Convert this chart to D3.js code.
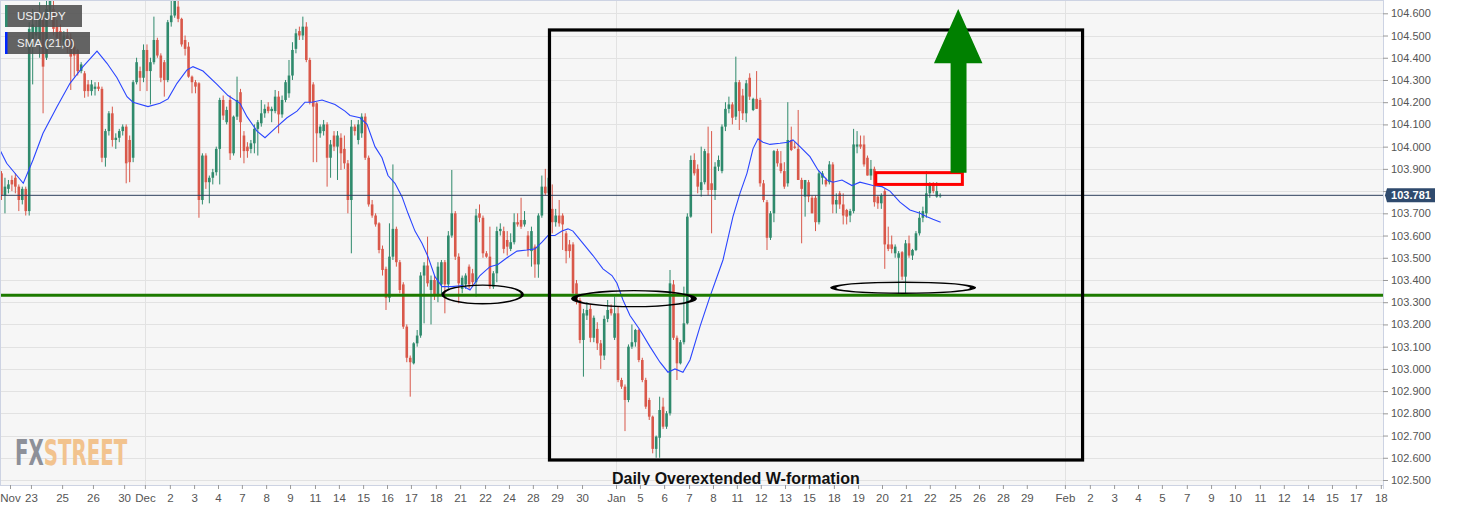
<!DOCTYPE html>
<html><head><meta charset="utf-8">
<script src="https://cdn.jsdelivr.net/npm/d3@7"></script>
<style>html,body{margin:0;padding:0;background:#fff;}svg{display:block;font-family:"Liberation Sans",Arial,sans-serif;}</style>
</head><body><svg id="c" width="1467" height="511"></svg>
<script>
// ---- DATA: 4H USD/JPY candles [open, high, low, close] ----
const candlesNov = [
[103.88,103.89,103.76,103.78],[103.78,103.86,103.70,103.82],[103.81,103.85,103.79,103.83],[103.85,103.87,103.80,103.83],
[103.86,103.88,103.79,103.82],[103.82,103.83,103.71,103.76],[103.76,103.82,103.74,103.81],[103.81,103.82,103.69,103.71],
[103.71,104.56,103.69,104.53],[104.45,104.62,104.28,104.55],[104.50,104.57,104.47,104.54],[104.48,104.65,104.40,104.60],
[104.57,104.59,104.15,104.36],[104.40,104.66,104.39,104.62],[104.60,104.80,104.58,104.72],[104.62,104.68,104.50,104.53],
[104.54,104.57,104.46,104.49],[104.52,104.55,104.46,104.48],[104.47,104.52,104.45,104.50],[104.50,104.53,104.42,104.45],
[104.49,104.51,104.255,104.405],[104.45,104.47,104.315,104.41],[104.435,104.44,104.32,104.34],[104.34,104.38,104.33,104.37],
[104.33,104.34,104.22,104.25],[104.28,104.30,104.225,104.25],[104.25,104.30,104.23,104.28],[104.26,104.29,104.23,104.27],
[104.27,104.29,104.25,104.26],[104.26,104.27,103.93,103.95],[103.95,104.08,103.91,104.07],[104.07,104.16,104.05,104.15],
[104.15,104.18,104.00,104.03],[104.03,104.06,103.99,104.04],[104.04,104.08,104.02,104.07],[104.07,104.10,104.05,104.09],
[104.09,104.10,103.835,103.925],[104.03,104.05,103.84,103.93],[103.95,104.30,103.93,104.29],[104.29,104.40,104.28,104.38],
[104.34,104.36,104.25,104.31],[104.31,104.46,104.29,104.435],[104.435,104.46,104.25,104.34],[104.34,104.40,104.19,104.38],
[104.38,104.585,104.37,104.48],[104.48,104.49,104.40,104.41],[104.41,104.42,104.29,104.31],[104.38,104.39,104.225,104.30],
[104.30,104.57,104.29,104.56],[104.56,104.66,104.54,104.59],[104.59,104.74,104.58,104.68],[104.63,104.70,104.56,104.575],
[104.575,104.58,104.45,104.46],[104.48,104.50,104.41,104.44],[104.45,104.47,104.31,104.315],[104.315,104.32,104.24,104.29],
[104.29,104.30,104.24,104.27],[104.285,104.29,103.68,103.76],[103.76,103.97,103.74,103.96],[103.96,103.97,103.81,103.84],
[103.84,103.87,103.745,103.86],[103.86,103.90,103.83,103.885],[103.885,104.00,103.87,103.99],[103.99,104.22,103.83,104.21],
[104.21,104.23,104.12,104.14],[104.11,104.18,104.10,104.165],[104.21,104.23,103.94,103.97],[103.97,104.14,103.96,104.135]
];
const candlesDec = [
[104.135,104.315,104.12,104.21],[104.245,104.26,103.95,104.11],[104.05,104.07,103.925,103.98],[104.00,104.02,103.95,103.98],
[103.99,104.03,103.97,104.015],[104.015,104.10,103.97,104.08],[104.08,104.12,103.96,104.11],[104.105,104.21,104.09,104.15],
[104.15,104.19,104.13,104.17],[104.18,104.20,104.15,104.16],[104.16,104.18,104.11,104.17],[104.16,104.255,104.15,104.225],
[104.225,104.25,104.06,104.145],[104.145,104.23,104.13,104.21],[104.21,104.30,104.20,104.29],[104.24,104.39,104.22,104.32],
[104.32,104.47,104.30,104.435],[104.44,104.53,104.42,104.51],[104.52,104.54,104.48,104.50],[104.50,104.585,104.48,104.54],
[104.54,104.56,104.38,104.39],[104.39,104.40,104.19,104.20],[104.28,104.29,103.93,104.18],[104.195,104.20,103.93,104.06],
[104.06,104.10,104.04,104.09],[104.07,104.12,104.05,104.10],[104.10,104.11,103.82,103.95],[103.95,104.03,103.86,104.01],
[104.05,104.07,103.98,104.00],[104.00,104.07,103.85,104.05],[104.04,104.06,103.895,103.97],[103.99,104.05,103.90,103.925],
[103.925,103.94,103.70,103.76],[103.76,104.12,103.52,104.09],[104.09,104.10,104.05,104.07],[104.03,104.12,104.01,104.10],
[104.06,104.15,104.04,104.135],[104.135,104.15,103.94,103.95],[103.95,103.96,103.73,103.74],[103.74,103.76,103.68,103.69],
[103.69,103.70,103.64,103.65],[103.655,103.66,103.52,103.535],[103.54,103.555,103.42,103.445],[103.45,103.46,103.265,103.32],
[103.32,103.655,103.30,103.505],[103.505,103.92,103.49,103.63],[103.63,103.64,103.46,103.48],[103.48,103.49,103.34,103.355],
[103.38,103.39,103.18,103.19],[103.19,103.20,103.03,103.05],[103.05,103.06,102.875,103.03],[103.025,103.12,103.02,103.115],
[103.115,103.175,103.10,103.15],[103.15,103.435,103.14,103.42],[103.42,103.48,103.205,103.465],[103.465,103.595,103.37,103.385],
[103.355,103.42,103.20,103.40],[103.40,103.42,103.31,103.33],[103.33,103.48,103.30,103.46],[103.38,103.49,103.33,103.48],
[103.48,103.49,103.25,103.38],[103.38,103.62,103.36,103.60],[103.60,103.895,103.59,103.70],[103.70,103.71,103.49,103.505],
[103.505,103.52,103.295,103.385],[103.36,103.42,103.34,103.41],[103.38,103.43,103.36,103.42],[103.46,103.47,103.36,103.38]
];
const candlesDecJan = [
[103.43,103.45,103.37,103.39],[103.39,103.72,103.325,103.69],[103.70,103.74,103.66,103.68],[103.68,103.69,103.50,103.52],
[103.52,103.53,103.50,103.505],[103.505,103.64,103.36,103.37],[103.37,103.44,103.36,103.43],[103.43,103.64,103.39,103.62],
[103.62,103.655,103.60,103.63],[103.62,103.64,103.52,103.54],[103.58,103.62,103.51,103.55],[103.54,103.61,103.53,103.57],
[103.57,103.70,103.56,103.66],[103.66,103.70,103.64,103.65],[103.67,103.77,103.63,103.64],[103.65,103.71,103.64,103.67],
[103.60,103.62,103.505,103.535],[103.53,103.64,103.46,103.62],[103.55,103.56,103.41,103.47],[103.47,103.70,103.41,103.69],
[103.69,103.87,103.68,103.82],[103.82,103.90,103.78,103.79],[103.79,103.92,103.77,103.86],[103.72,103.83,103.61,103.66],
[103.66,103.72,103.64,103.69],[103.69,103.76,103.64,103.655],[103.69,103.70,103.535,103.65],[103.61,103.62,103.475,103.53],
[103.56,103.58,103.50,103.53],[103.56,103.57,103.32,103.34],[103.385,103.40,103.29,103.31],[103.31,103.32,103.115,103.13],
[103.13,103.27,102.965,103.25],[103.24,103.30,103.22,103.265],[103.27,103.29,103.12,103.14],[103.14,103.24,103.12,103.23],
[103.18,103.21,103.085,103.115],[103.115,103.13,103.00,103.06],[103.06,103.24,103.04,103.225],[103.225,103.31,103.21,103.265],
[103.27,103.29,103.24,103.25],[103.14,103.325,103.13,103.25],[103.25,103.28,102.94,102.95],[102.95,102.96,102.91,102.92],
[102.92,102.93,102.72,102.86],[102.86,103.11,102.85,103.10],[103.10,103.20,103.09,103.12],[103.12,103.18,103.10,103.175],
[103.175,103.18,103.03,103.04],[103.04,103.05,102.94,102.95],[102.95,102.96,102.82,102.83],[102.86,102.87,102.77,102.785],
[102.785,102.79,102.62,102.64],[102.64,102.70,102.60,102.695],[102.69,102.875,102.60,102.815],[102.83,102.87,102.73,102.74],
[102.74,102.81,102.73,102.80],[102.80,103.445,102.79,103.385],[103.38,103.40,103.13,103.14],[103.14,103.15,102.95,103.025],
[103.025,103.13,103.02,103.12],[103.12,103.37,103.11,103.205],[103.205,103.70,103.20,103.685],[103.685,103.96,103.68,103.94],
[103.94,103.97,103.87,103.88],[103.90,103.92,103.79,103.82]
];
const candlesJan = [
[103.805,104.00,103.775,103.84],[103.84,103.99,103.83,103.98],[103.97,104.09,103.78,103.805],[103.835,104.07,103.61,103.805],
[103.805,103.93,103.76,103.91],[103.91,103.96,103.89,103.94],[103.89,104.10,103.88,104.09],[104.09,104.20,104.07,104.17],
[104.17,104.225,104.15,104.19],[104.19,104.20,104.10,104.13],[104.135,104.405,104.12,104.29],[104.29,104.30,104.075,104.16],
[104.23,104.26,104.12,104.15],[104.15,104.30,104.11,104.285],[104.31,104.33,104.21,104.225],[104.165,104.22,104.16,104.215],
[104.215,104.34,104.17,104.17],[104.21,104.22,103.82,103.835],[103.835,103.85,103.75,103.76],[103.75,103.76,103.535,103.59],
[103.59,103.71,103.58,103.70],[103.70,103.985,103.66,103.98],[103.98,103.99,103.91,103.925],[103.925,103.98,103.88,103.89],
[103.89,103.93,103.81,103.82],[103.835,104.20,103.82,104.03],[104.03,104.09,103.98,103.985],[104.00,104.02,103.99,103.995],
[103.99,104.165,103.85,103.85],[103.85,103.86,103.565,103.81],[103.775,103.85,103.685,103.85],[103.84,103.85,103.75,103.775],
[103.77,103.78,103.70,103.70],[103.77,103.78,103.62,103.66],[103.66,103.89,103.65,103.88],[103.86,103.89,103.83,103.88],
[103.85,103.86,103.82,103.83],[103.84,103.935,103.83,103.92],[103.92,103.93,103.70,103.74],[103.74,103.79,103.70,103.76],
[103.79,103.80,103.72,103.74],[103.74,103.79,103.65,103.69],[103.715,103.72,103.65,103.685],[103.69,103.72,103.66,103.71],
[103.71,104.08,103.70,104.01],[104.00,104.07,103.97,104.01],[104.01,104.05,103.99,104.00],[104.01,104.05,103.91,103.92],
[103.95,103.96,103.87,103.87],[103.87,103.94,103.85,103.90],[103.90,103.91,103.73,103.75],[103.775,103.78,103.72,103.745],
[103.745,103.79,103.72,103.78],[103.80,103.81,103.45,103.56],[103.56,103.64,103.53,103.54],[103.56,103.60,103.52,103.54],
[103.52,103.56,103.50,103.55],[103.50,103.53,103.34,103.52],[103.525,103.53,103.40,103.415],[103.415,103.58,103.34,103.565],
[103.565,103.60,103.50,103.51],[103.51,103.54,103.49,103.535],[103.535,103.62,103.53,103.61],[103.61,103.71,103.60,103.68],
[103.68,103.73,103.66,103.71],[103.70,103.89,103.68,103.79],[103.79,103.84,103.77,103.835],[103.83,103.84,103.79,103.80],
[103.775,103.84,103.77,103.80],[103.78,103.79,103.77,103.781]
];
// SMA(21) line: bar index and value
const smaBar = [-0.43,1.5,6.29,9.09,11.98,16.02,19.77,23.53,27.57,30.46,33.34,36.23,37.96,42.29,45.76,48.07,50.66,53.55,55.28,58.17,
62.21,65.39,68.85,70.87,73.76,76.07,79.53,82.42,85.31,87.62,89.64,92.53,96.28,99.16,100.61,103.5,105.52,107.82,109.85,111.58,
113.6,115.62,117.35,119.37,121.39,123.12,125.14,127.17,130.05,132.94,135.25,138.13,141.02,143.33,145.93,148.82,151.7,154.01,156.03,157.77,
159.79,161.81,163.54,164.98,167.87,170.76,173.64,176.24,177.69,179.42,181.44,184.33,187.21,190.1,192.41,194.43,196.74,198.76,201.65,204.53,
208.29,211.17,213.19,215.21,216.95,218.39,219.83,221.86,224.74,227.05,228.49,230.51,233.4,235.71,238.31,240.04,242.64,245.53,247.83,251.59,
254.19,256.5,259.38,262.27,265.16,267.18,268.91,271.13];
const smaVal = [103.985,103.925,103.835,103.94,104.06,104.18,104.285,104.36,104.43,104.375,104.31,104.225,104.20,104.18,104.195,104.215,104.285,104.345,104.36,104.34,
104.28,104.23,104.195,104.135,104.07,104.04,104.09,104.13,104.16,104.20,104.20,104.21,104.19,104.16,104.14,104.13,104.10,104.0,103.95,103.87,
103.835,103.775,103.70,103.62,103.565,103.505,103.415,103.37,103.37,103.375,103.355,103.42,103.46,103.47,103.50,103.53,103.535,103.54,103.57,103.60,
103.60,103.62,103.63,103.62,103.565,103.51,103.45,103.42,103.385,103.31,103.24,103.175,103.10,103.03,102.985,103.0,102.985,103.04,103.19,103.325,
103.49,103.685,103.79,103.88,103.99,104.035,104.02,104.01,104.015,104.02,104.03,104.0,103.955,103.895,103.85,103.84,103.85,103.825,103.84,103.825,
103.82,103.80,103.75,103.715,103.70,103.685,103.673,103.66];
const yTickValues = [102.5,102.6,102.7,102.8,102.9,103.0,103.1,103.2,103.3,103.4,103.5,103.6,103.7,103.8,103.9,104.0,104.1,104.2,104.3,104.4,104.5,104.6];
const xTickLabels = ["Nov","23","25","26","30","Dec","2","3","4","7","8","9","11","14","15","16","17","18","21","22","24","28","29","30","Jan","5","6","7","8","11","12","13","15","18","19","20","21","22","25","26","28","29","Feb","2","3","4","5","7","9","10","11","12","14","15","17","18"];
const xTickBars = [2.45,8.5,17.5,26.4,35.4,41.4,48.6,55.6,62.5,69.4,76.4,83.3,90.5,97.4,104.4,111.3,118.2,125.4,132.4,139.6,146.5,153.4,160.4,167.6,177.4,184.3,191.3,198.5,205.4,212.3,219.2,226.2,233.1,240.3,247.3,254.2,261.1,268.0,275.3,282.2,289.1,296.0,307.0,314.2,321.2,328.1,335.0,342.2,349.2,356.1,363.3,370.2,377.2,384.1,391.0,398.2];
const monthNames = ["Dec","Jan","Feb"];
const lastPrice = 103.781;
const supportLevel = 103.331;
// annotations in data units (bar index, price)
const ellipses = [ {bar:138.9, price:103.335, rxBars:11.5, ryPrice:0.042, thick:3},
                   {bar:182.6, price:103.316, rxBars:17.3, ryPrice:0.036, thick:6},
                   {bar:260.3, price:103.365, rxBars:20.2, ryPrice:0.025, thick:6} ];
const patternBox = {bar0:158.2, bar1:312.1, p0:104.525, p1:102.59};
const resistBox = {bar0:252.4, bar1:277.4, p0:103.883, p1:103.83};
const arrowPts = [[274.0,103.883],[274.0,104.375],[269.2,104.375],[276.2,104.619],[283.2,104.375],[278.6,104.375],[278.6,103.883]];
const patternLabel = {text:"Daily Overextended W-formation", bar:212.0, price:102.484};

// ---- CHART ----
const bars = [].concat(candlesNov, candlesDec, candlesDecJan, candlesJan);
const W = 1467, H = 511, plotR = 1383, plotB = 485;
const svg = d3.select("#c");
const x = d3.scaleLinear().domain([0, 271]).range([1.5, 940.2]);
const y = d3.scaleLinear().domain([102.5, 104.6]).range([480, 13.3]);

svg.append("rect").attr("width", W).attr("height", H).attr("fill", "#fff");
svg.append("rect").attr("x", 0).attr("y", 0).attr("width", plotR).attr("height", plotB).attr("fill", "#f6f6f6");

// gridlines
svg.append("g").selectAll("line").data(yTickValues).join("line")
  .attr("x1", 0).attr("x2", plotR).attr("y1", d => Math.round(y(d)) + 0.5).attr("y2", d => Math.round(y(d)) + 0.5)
  .attr("stroke", "#e2e2e2");
const monthBars = xTickBars.filter((b, i) => monthNames.includes(xTickLabels[i]));
svg.append("g").selectAll("line").data(monthBars).join("line")
  .attr("x1", d => Math.round(x(d)) + 0.5).attr("x2", d => Math.round(x(d)) + 0.5).attr("y1", 0).attr("y2", plotB)
  .attr("stroke", "#e2e2e2");

// clip
svg.append("defs").append("clipPath").attr("id", "clip").append("rect")
  .attr("x", 0).attr("y", 0).attr("width", plotR).attr("height", plotB);
const g = svg.append("g").attr("clip-path", "url(#clip)");

const up = "#2f8a6c", dn = "#d9584a";
const cg = g.append("g");
cg.selectAll("line").data(bars).join("line")
  .attr("x1", (d, i) => x(i)).attr("x2", (d, i) => x(i))
  .attr("y1", d => y(d[1])).attr("y2", d => y(d[2]))
  .attr("stroke", d => d[3] >= d[0] ? up : dn).attr("stroke-width", 1);
cg.selectAll("rect").data(bars).join("rect")
  .attr("x", (d, i) => x(i) - 1.3).attr("width", 2.6)
  .attr("y", d => y(Math.max(d[0], d[3])))
  .attr("height", d => Math.max(1, Math.abs(y(d[0]) - y(d[3]))))
  .attr("fill", d => d[3] >= d[0] ? up : dn);

// SMA
g.append("path").datum(smaBar.map((b, i) => [b, smaVal[i]]))
  .attr("d", d3.line().x(d => x(d[0])).y(d => y(d[1])))
  .attr("fill", "none").attr("stroke", "#2a45ff").attr("stroke-width", 1.1);

// current price line
g.append("line").attr("x1", 0).attr("x2", plotR).attr("y1", y(lastPrice)).attr("y2", y(lastPrice))
  .attr("stroke", "#2d3f5c").attr("stroke-width", 1);

// support line
g.append("line").attr("x1", 0).attr("x2", plotR).attr("y1", y(supportLevel)).attr("y2", y(supportLevel))
  .attr("stroke", "#1d7a00").attr("stroke-width", 3);

// ellipses with heavier ends
function ellPath(cx, cy, rx, ry) {
  return `M${cx - rx},${cy} A${rx},${ry} 0 1,0 ${cx + rx},${cy} A${rx},${ry} 0 1,0 ${cx - rx},${cy} Z`;
}
g.append("g").selectAll("path").data(ellipses).join("path")
  .attr("d", e => {
    const cx = x(e.bar), cy = y(e.price);
    const rx = x(e.bar + e.rxBars) - cx, ry = y(e.price - e.ryPrice) - cy;
    return ellPath(cx, cy, rx + e.thick / 2, ry + 0.7) + ellPath(cx, cy, rx - e.thick / 2, ry - 0.7);
  })
  .attr("fill", "#000").attr("fill-rule", "evenodd");

// pattern box
g.append("rect").attr("x", x(patternBox.bar0)).attr("y", y(patternBox.p0))
  .attr("width", x(patternBox.bar1) - x(patternBox.bar0)).attr("height", y(patternBox.p1) - y(patternBox.p0))
  .attr("fill", "none").attr("stroke", "#000").attr("stroke-width", 3.2);

// red resistance box
g.append("rect").attr("x", x(resistBox.bar0)).attr("y", y(resistBox.p0))
  .attr("width", x(resistBox.bar1) - x(resistBox.bar0)).attr("height", y(resistBox.p1) - y(resistBox.p0))
  .attr("fill", "none").attr("stroke", "#ff0000").attr("stroke-width", 3);

// green arrow
g.append("polygon").attr("points", arrowPts.map(p => [x(p[0]), y(p[1])].join(",")).join(" "))
  .attr("fill", "#008000");

// label
g.append("text").attr("x", x(patternLabel.bar)).attr("y", y(patternLabel.price))
  .attr("text-anchor", "middle").attr("font-size", 16).attr("font-weight", "bold").attr("fill", "#111")
  .text(patternLabel.text);

// frame
svg.append("line").attr("x1", 0.5).attr("x2", 0.5).attr("y1", 0).attr("y2", plotB).attr("stroke", "#cdd3e3");
svg.append("line").attr("x1", 0).attr("x2", plotR).attr("y1", 0.5).attr("y2", 0.5).attr("stroke", "#cdd3e3");
svg.append("line").attr("x1", plotR + 0.5).attr("x2", plotR + 0.5).attr("y1", 0).attr("y2", plotB + 4).attr("stroke", "#cdd3e3");
svg.append("line").attr("x1", 0).attr("x2", plotR).attr("y1", plotB + 0.5).attr("y2", plotB + 0.5).attr("stroke", "#cdd3e3");

// y axis (the tick label hidden behind the current-price tag is left blank, as in the source)
const yAx = svg.append("g").attr("transform", `translate(${plotR},0)`)
  .call(d3.axisRight(y).tickValues(yTickValues)
    .tickFormat(d => Math.abs(d - lastPrice) < 0.04 ? "" : d3.format(".3f")(d)).tickSize(5).tickPadding(3));
yAx.select(".domain").remove();
yAx.selectAll("line").attr("stroke", "#999");
yAx.selectAll("text").attr("font-size", 11).attr("fill", "#555").attr("font-family", '"Liberation Sans",Arial,sans-serif');

// x axis
const xAx = svg.append("g").attr("transform", `translate(0,${plotB})`)
  .call(d3.axisBottom(x).tickValues(xTickBars).tickFormat((d, i) => xTickLabels[i]).tickSize(4).tickPadding(5));
xAx.select(".domain").remove();
xAx.selectAll("line").attr("stroke", "#999");
xAx.selectAll("text").attr("font-size", 11.5).attr("fill", "#555").attr("font-family", '"Liberation Sans",Arial,sans-serif');

// current price tag
const py = y(lastPrice);
svg.append("polygon")
  .attr("points", `${plotR + 2},${py} ${plotR + 4},${py - 7} ${plotR + 52},${py - 7} ${plotR + 52},${py + 7} ${plotR + 4},${py + 7}`)
  .attr("fill", "#2f4a6d");
svg.append("text").attr("x", plotR + 28).attr("y", py + 4).attr("text-anchor", "middle")
  .attr("font-size", 11).attr("font-weight", "bold").attr("fill", "#fff").text(d3.format(".3f")(lastPrice));

// legend boxes
const leg = [{t:"USD/JPY", c:"#2e8b6e", y:5, w:77}, {t:"SMA (21,0)", c:"#0026ff", y:32, w:85}];
const lg = svg.append("g").selectAll("g").data(leg).join("g");
lg.append("rect").attr("x", 5).attr("y", d => d.y).attr("width", d => d.w).attr("height", 22).attr("fill", "rgba(78,78,78,0.88)");
lg.append("rect").attr("x", 5).attr("y", d => d.y).attr("width", 2.5).attr("height", 22).attr("fill", d => d.c);
lg.append("text").attr("x", 17).attr("y", d => d.y + 15).attr("font-size", 11.5).attr("fill", "#f2f2f2").text(d => d.t);

// watermark: natural-width condensed text, stretched vertically
const wm = svg.append("text").attr("transform", "translate(15,465) scale(1,1.6)")
  .attr("font-size", 22).attr("font-weight", "bold")
  .attr("font-family", '"DejaVu Sans Condensed","DejaVu Sans",sans-serif');
wm.append("tspan").attr("fill", "#8d9099").text("FX");
wm.append("tspan").attr("fill", "#f2c38e").text("STREET");
</script></body></html>
